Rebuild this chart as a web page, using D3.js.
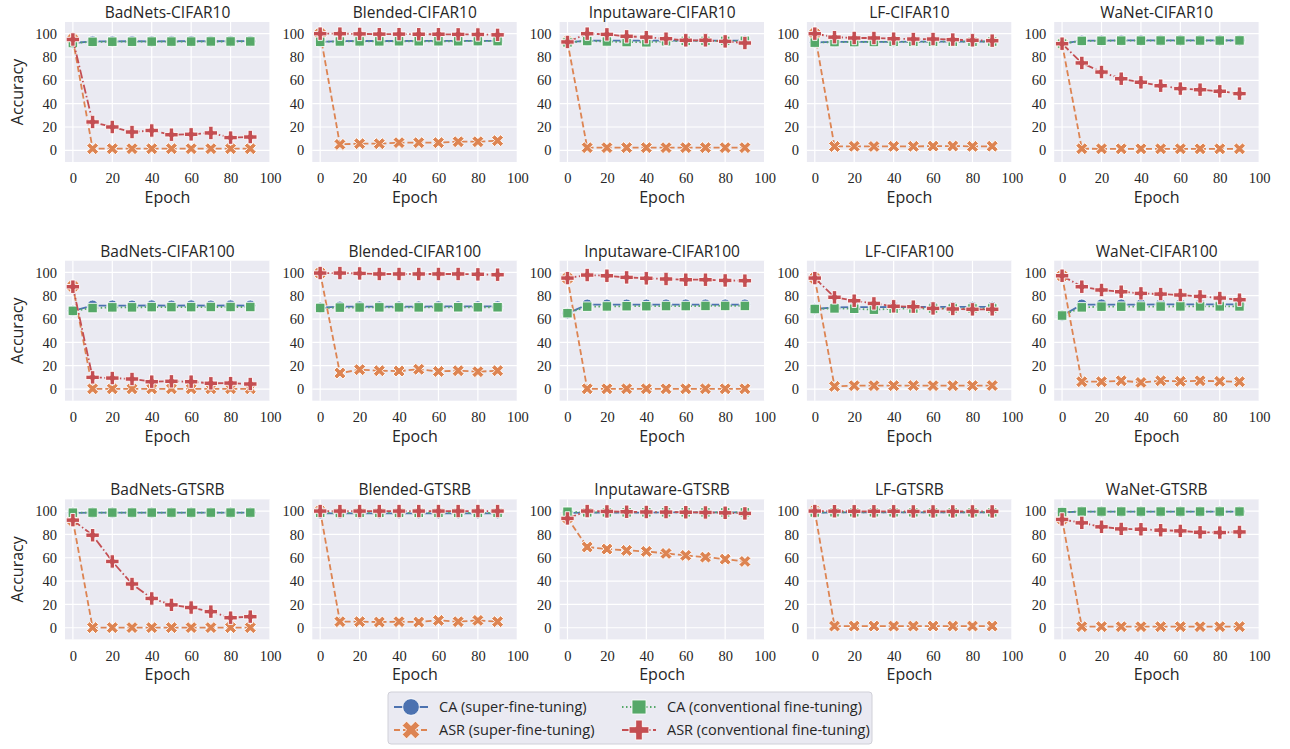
<!DOCTYPE html>
<html>
<head>
<meta charset="utf-8">
<script src="https://cdn.jsdelivr.net/npm/d3@7"></script>
<style>
  body { margin: 0; background: #fff; }
  svg { display: block; }
</style>
</head>
<body>
<div id="chart"></div>
<script>
// epochs on the x axis
var epochs = [0, 10, 20, 30, 40, 50, 60, 70, 80, 90];
var attacks = ["BadNets", "Blended", "Inputaware", "LF", "WaNet"];
var datasets = ["CIFAR10", "CIFAR100", "GTSRB"];
var xTicks = [0, 20, 40, 60, 80, 100];
var yTicks = [0, 20, 40, 60, 80, 100];

// one row per panel, row-major (dataset, then attack)
var caSuper = [
  [92, 93.4, 93.4, 93.5, 93.4, 93.5, 93.6, 93.5, 93.6, 93.6],
  [93, 93.6, 93.7, 93.7, 93.7, 93.8, 93.8, 93.8, 93.8, 93.8],
  [92.5, 94, 94, 94, 94, 94, 94, 94, 94, 94],
  [92.5, 93, 93, 93, 93, 93.2, 93.2, 93.2, 93.3, 93.3],
  [91.5, 94, 94, 94.2, 94.2, 94.2, 94.3, 94.3, 94.3, 94.3],
  [67, 71.5, 71.5, 71.5, 71.6, 71.5, 71.6, 71.5, 71.6, 71.5],
  [69.7, 70.6, 70.7, 70.7, 70.7, 70.7, 70.8, 70.8, 70.8, 70.8],
  [64.9, 72.3, 72.3, 72.3, 72.3, 72.4, 72.4, 72.4, 72.4, 72.4],
  [68.6, 70, 70.2, 70.2, 70.3, 70.3, 70.4, 70.4, 70.4, 70.4],
  [62.9, 72.3, 72.4, 72.4, 72.4, 72.5, 72.5, 72.5, 72.5, 72.5],
  [98.5, 98.6, 98.6, 98.6, 98.6, 98.6, 98.6, 98.6, 98.6, 98.6],
  [98, 98, 98.1, 98.1, 98.1, 98.1, 98.1, 98.1, 98.1, 98.1],
  [98.5, 98.7, 98.7, 98.7, 98.7, 98.8, 98.8, 98.8, 98.8, 98.8],
  [98.5, 98.8, 98.8, 98.8, 98.8, 98.8, 98.9, 98.9, 98.9, 98.9],
  [99, 99.5, 99.5, 99.5, 99.5, 99.5, 99.5, 99.5, 99.5, 99.5]
];
var asrSuper = [
  [95, 1.4, 1.4, 1.4, 1.4, 1.4, 1.4, 1.4, 1.4, 1.4],
  [100, 5.1, 5.7, 5.7, 6.6, 6.6, 6.6, 7.4, 7.4, 8.3],
  [93, 2.3, 2.3, 2.3, 2.3, 2.3, 2.3, 2.3, 2.3, 2.3],
  [100, 3.3, 3.4, 3.3, 3.4, 3.4, 3.6, 3.7, 3.4, 3.5],
  [91.4, 1.4, 1.3, 1.3, 1.3, 1.3, 1.3, 1.3, 1.3, 1.3],
  [88, 0.2, 0.2, 0.2, 0.2, 0.2, 0.2, 0.2, 0.2, 0.2],
  [99.4, 13.7, 16.6, 15.7, 15.4, 16.9, 15.1, 15.7, 14.9, 15.7],
  [95, 0.2, 0.2, 0.2, 0.2, 0.2, 0.2, 0.2, 0.2, 0.2],
  [95, 2.3, 2.9, 2.9, 2.9, 3, 2.9, 2.9, 2.9, 3],
  [97, 6.3, 6.3, 7.1, 5.7, 7.1, 6.6, 7.1, 6.6, 6.3],
  [92, 0.1, 0.1, 0.1, 0.1, 0.1, 0.1, 0.1, 0.1, 0.1],
  [100, 5.2, 5.2, 4.9, 5.2, 4.9, 6.3, 5.2, 6.3, 5.2],
  [94, 69.2, 67.4, 66.3, 65.4, 63.7, 62, 60.5, 58.8, 56.8],
  [100, 1.4, 1.4, 1.4, 1.4, 1.4, 1.4, 1.4, 1.4, 1.4],
  [93, 0.9, 0.9, 0.9, 0.9, 0.9, 0.9, 0.9, 0.9, 0.9]
];
var caConv = [
  [92, 93, 93.1, 93.1, 93.2, 93.2, 93.2, 93.3, 93.3, 93.3],
  [93, 93.3, 93.4, 93.4, 93.5, 93.5, 93.5, 93.5, 93.6, 93.6],
  [92.5, 93.7, 93.3, 92.8, 92.6, 93.5, 93.8, 93.8, 93.8, 93.9],
  [92.3, 92.8, 92.8, 92.9, 93, 93, 93.1, 93.1, 93.1, 93.2],
  [91.5, 93.8, 93.9, 94, 94, 94.1, 94.1, 94.1, 94.1, 94.2],
  [67, 69.4, 70, 70, 70.2, 70.2, 70.2, 70.3, 70.3, 70.3],
  [69.5, 69.8, 69.9, 70, 70, 70, 70, 70.1, 70.1, 70.1],
  [65, 70.6, 70.8, 71, 71, 71.1, 71.1, 71.2, 71.2, 71.2],
  [68.6, 69.1, 68.8, 68, 68.9, 69, 69, 69.1, 69.1, 69.1],
  [63, 70, 70.6, 70.6, 70.7, 70.7, 70.8, 70.8, 70.8, 70.8],
  [98.6, 98.7, 98.7, 98.7, 98.7, 98.7, 98.7, 98.7, 98.7, 98.7],
  [98.5, 98.4, 98.5, 98.5, 98.5, 98.5, 98.5, 98.5, 98.5, 98.5],
  [99.4, 98.9, 98.9, 98.9, 98.9, 98.9, 98.9, 98.9, 98.9, 98.9],
  [98.8, 99, 99, 99, 99, 99, 99, 99, 99, 99],
  [99.1, 99.6, 99.6, 99.6, 99.6, 99.6, 99.6, 99.6, 99.6, 99.6]
];
var asrConv = [
  [95, 24.3, 20, 15.7, 17, 13.4, 13.7, 14.9, 10.9, 11.4],
  [100, 100, 99.8, 99.6, 99.6, 99.5, 99.5, 99.4, 99.3, 99],
  [92.9, 100, 99.4, 97.7, 97, 95.7, 94.3, 94.3, 93.4, 92],
  [100, 97, 96.3, 96.3, 95.7, 95.4, 95.4, 94.9, 94.3, 94],
  [91.4, 74.9, 67.1, 61.4, 58.3, 55.4, 52.9, 52, 50.6, 48.6],
  [87.7, 10, 9.4, 8.6, 6.3, 6.6, 6.3, 4.9, 5.1, 4.3],
  [99.4, 99.4, 99.1, 98.6, 98.6, 98.6, 98.6, 98.6, 98.3, 98],
  [95.1, 97.7, 97.1, 95.7, 94.9, 94.3, 93.7, 93.7, 93.1, 92.9],
  [95.1, 78.6, 75.7, 73.4, 70.9, 70.6, 69.1, 68.6, 68.3, 68.3],
  [97.1, 87.7, 84.9, 83.4, 82, 81.4, 80.6, 79.4, 78, 76.6],
  [92.2, 79.3, 56.8, 37.5, 25.1, 19.6, 17.3, 13.8, 8.6, 9.5],
  [100, 100, 100, 100, 100, 100, 100, 100, 100, 100],
  [93.7, 100, 99.7, 99.4, 99.2, 99.1, 99, 98.8, 98.5, 98],
  [100, 99.9, 99.8, 99.8, 99.8, 99.7, 99.7, 99.7, 99.7, 99.7],
  [92.8, 89.9, 86.5, 84.7, 84.4, 83.6, 83, 81.8, 81.6, 82.1]
];

var seriesLabels = ["CA (super-fine-tuning)", "ASR (super-fine-tuning)",
                    "CA (conventional fine-tuning)", "ASR (conventional fine-tuning)"];

// look of each series, seaborn "deep" palette
var styles = [
  { data: caSuper,  color: "#4C72B0", dash: null,            symbol: d3.symbolCircle, size: 100, rot: 0 },
  { data: asrSuper, color: "#DD8452", dash: "6,3",           symbol: d3.symbolCross,  size: 90,  rot: 45 },
  { data: caConv,   color: "#55A868", dash: "1.5,2.5",       symbol: d3.symbolSquare, size: 90,  rot: 0 },
  { data: asrConv,  color: "#C44E52", dash: "9,2.5,1.5,2.5", symbol: d3.symbolCross,  size: 100, rot: 0 }
];

var width = 1290, height = 749;
var plotW = 205, plotH = 140;
var left0 = 65, colStep = 247.3;
var top0 = 22, rowStep = 238.7;

var sansFont = "'Open Sans', 'DejaVu Sans', sans-serif";
var serifFont = "'Liberation Serif', 'DejaVu Serif', serif";
var textColor = "#262626";

var svg = d3.select("#chart").append("svg")
    .attr("width", width)
    .attr("height", height);

var x = d3.scaleLinear().domain([-4, 100]).range([0, plotW]);
var y = d3.scaleLinear().domain([-10, 110]).range([plotH, 0]);

var line = d3.line()
    .x(function(d) { return x(d[0]); })
    .y(function(d) { return y(d[1]); });

datasets.forEach(function(ds, r) {
    attacks.forEach(function(att, c) {
        var idx = r * attacks.length + c;
        var g = svg.append("g")
            .attr("transform", "translate(" + (left0 + c * colStep) + "," + (top0 + r * rowStep) + ")");

        g.append("rect")
            .attr("width", plotW)
            .attr("height", plotH)
            .attr("fill", "#EAEAF2");

        // grid
        g.selectAll(".gx").data(xTicks).enter().append("line")
            .attr("x1", function(d) { return x(d); })
            .attr("x2", function(d) { return x(d); })
            .attr("y1", 0).attr("y2", plotH)
            .attr("stroke", "#fff").attr("stroke-width", 1.2);
        g.selectAll(".gy").data(yTicks).enter().append("line")
            .attr("y1", function(d) { return y(d); })
            .attr("y2", function(d) { return y(d); })
            .attr("x1", 0).attr("x2", plotW)
            .attr("stroke", "#fff").attr("stroke-width", 1.2);

        // axes (no domain lines, seaborn darkgrid)
        var xAxis = g.append("g")
            .attr("transform", "translate(0," + plotH + ")")
            .call(d3.axisBottom(x).tickValues(xTicks).tickSize(0).tickPadding(11));
        var yAxis = g.append("g")
            .call(d3.axisLeft(y).tickValues(yTicks).tickSize(0).tickPadding(8));
        [xAxis, yAxis].forEach(function(a) {
            a.select(".domain").remove();
            a.selectAll("text")
                .style("font-family", serifFont)
                .style("font-size", "14.5px")
                .attr("fill", textColor);
        });

        // series
        styles.forEach(function(s) {
            var pts = epochs.map(function(e, i) { return [e, s.data[idx][i]]; });
            g.append("path")
                .datum(pts)
                .attr("d", line)
                .attr("fill", "none")
                .attr("stroke", s.color)
                .attr("stroke-width", 1.8)
                .attr("stroke-dasharray", s.dash);
            g.selectAll(null).data(pts).enter().append("path")
                .attr("d", d3.symbol().type(s.symbol).size(s.size))
                .attr("transform", function(d) {
                    return "translate(" + x(d[0]) + "," + y(d[1]) + ") rotate(" + s.rot + ")";
                })
                .attr("fill", s.color)
                .attr("stroke", "#fff")
                .attr("stroke-width", 0.9);
        });

        g.append("text")
            .text(att + "-" + ds)
            .attr("x", plotW / 2)
            .attr("y", -4)
            .attr("text-anchor", "middle")
            .style("font-family", sansFont)
            .style("font-size", "15.5px")
            .attr("fill", textColor);

        g.append("text")
            .text("Epoch")
            .attr("x", plotW / 2)
            .attr("y", plotH + 41)
            .attr("text-anchor", "middle")
            .style("font-family", sansFont)
            .style("font-size", "16px")
            .attr("fill", textColor);

        if (c === 0) {
            g.append("text")
                .text("Accuracy")
                .attr("transform", "translate(" + (-48) + "," + (plotH / 2) + ") rotate(-90)")
                .attr("text-anchor", "middle")
                .attr("dy", "0.35em")
                .style("font-family", sansFont)
                .style("font-size", "16px")
                .attr("fill", textColor);
        }
    });
});

// legend
var legend = svg.append("g").attr("transform", "translate(388,692)");
legend.append("rect")
    .attr("width", 484)
    .attr("height", 52)
    .attr("rx", 3)
    .attr("fill", "#EAEAF2")
    .attr("stroke", "#D0D0D8");

var legendPos = [[6, 15], [6, 38], [234, 15], [234, 38]];
styles.forEach(function(s, i) {
    var item = legend.append("g")
        .attr("transform", "translate(" + legendPos[i][0] + "," + legendPos[i][1] + ")");
    item.append("line")
        .attr("x1", 0).attr("x2", 34)
        .attr("stroke", s.color)
        .attr("stroke-width", 1.8)
        .attr("stroke-dasharray", s.dash);
    item.append("path")
        .attr("d", d3.symbol().type(s.symbol).size(s.size * 2.2))
        .attr("transform", "translate(17,0) rotate(" + s.rot + ")")
        .attr("fill", s.color)
        .attr("stroke", "#fff")
        .attr("stroke-width", 0.9);
    item.append("text")
        .text(seriesLabels[i])
        .attr("x", 45)
        .attr("dy", "0.35em")
        .style("font-family", sansFont)
        .style("font-size", "14.5px")
        .attr("fill", textColor);
});
</script>
</body>
</html>
